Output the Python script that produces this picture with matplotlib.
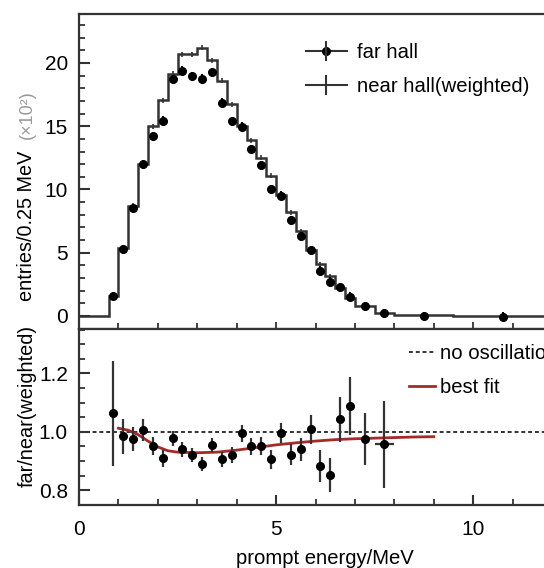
import numpy as np
import matplotlib.pyplot as plt
from matplotlib.lines import Line2D
from matplotlib.ticker import MultipleLocator, FixedLocator

plt.rcParams['font.family'] = ['Liberation Sans', 'DejaVu Sans']

# prompt energy bins (MeV)
bin_edges = [0.0, 0.75, 1.0, 1.25, 1.5, 1.75, 2.0, 2.25, 2.5, 2.75, 3.0,
             3.25, 3.5, 3.75, 4.0, 4.25, 4.5, 4.75, 5.0, 5.25, 5.5, 5.75,
             6.0, 6.25, 6.5, 6.75, 7.0, 7.5, 8.0, 9.5, 12.0]

# near hall (weighted), entries/0.25 MeV x 10^2
near_counts = [0.0, 1.55, 5.35, 8.7, 12.0, 15.0, 17.05, 19.15, 20.7, 20.7, 21.2,
               20.2, 18.6, 16.75, 15.0, 13.9, 12.5, 11.1, 9.6, 8.2, 6.7, 5.2,
               4.1, 3.15, 2.2, 1.45, 0.8, 0.22, 0.04, 0.0]

# far hall
far_counts = [1.58, 5.27, 8.5, 12.0, 14.2, 15.45, 18.7, 19.4, 18.95, 18.75,
              19.25, 16.85, 15.4, 14.95, 13.2, 11.9, 10.0, 9.5, 7.55, 6.3,
              5.2, 3.58, 2.7, 2.28, 1.52, 0.77, 0.21, 0.0, -0.05]
far_err = 0.35

# far / near ratio (first 27 bins)
ratio = [1.063, 0.985, 0.975, 1.006, 0.951, 0.909, 0.977, 0.94, 0.92, 0.889,
         0.954, 0.906, 0.92, 0.994, 0.95, 0.952, 0.905, 0.995, 0.922, 0.94,
         1.008, 0.882, 0.851, 1.043, 1.088, 0.975, 0.957]
ratio_err = [0.18, 0.06, 0.042, 0.038, 0.031, 0.03, 0.026, 0.025, 0.025, 0.025,
             0.025, 0.026, 0.027, 0.028, 0.03, 0.031, 0.033, 0.035, 0.037, 0.04,
             0.05, 0.054, 0.058, 0.077, 0.099, 0.089, 0.15]
ratio_xerr = [0.0] * 26 + [0.25]

# best fit curve
fit_x = [1.0, 1.25, 1.5, 1.75, 2.0, 2.25, 2.5, 3.0, 3.5, 4.0, 4.5, 5.0,
         5.5, 6.0, 6.5, 7.0, 7.5, 8.0, 8.5, 9.0]
fit_y = [1.012, 1.005, 0.99, 0.968, 0.948, 0.935, 0.930, 0.928, 0.930, 0.937,
         0.946, 0.955, 0.962, 0.968, 0.973, 0.976, 0.978, 0.980, 0.982, 0.983]

edges = np.array(bin_edges)
centers = (edges[:-1] + edges[1:]) / 2
far_x = centers[1:]
ratio_x = far_x[:len(ratio)]

dark = '#333333'
red = '#a52a2a'
tick_fs = 15
text_fs = 14.6

fig = plt.figure(figsize=(5.44, 5.68), dpi=100)
L = 79 / 544
W = (552 - 79) / 544
ax1 = fig.add_axes([L, 1 - 329 / 568, W, (329 - 14) / 568])
ax2 = fig.add_axes([L, 1 - 505 / 568, W, (505 - 329) / 568])

# top panel
ax1.stairs(near_counts, edges, baseline=None, color=dark, lw=1.8)
ax1.errorbar(centers[1:], near_counts[1:], yerr=0.2, fmt='none', ecolor=dark,
             elinewidth=1.2)
ax1.errorbar(far_x, far_counts, yerr=far_err, fmt='o', color='black',
             ms=5.5, elinewidth=1.5)

ax1.set_xlim(0, 12)
ax1.set_ylim(-1.03, 23.87)
ax1.yaxis.set_major_locator(FixedLocator([0, 5, 10, 15, 20]))
ax1.yaxis.set_minor_locator(MultipleLocator(1))
ax1.xaxis.set_major_locator(MultipleLocator(5))
ax1.xaxis.set_minor_locator(MultipleLocator(1))
ax1.tick_params(axis='both', which='both', direction='in', colors=dark)
ax1.tick_params(axis='y', which='major', length=8, width=1.5, labelsize=tick_fs,
                labelcolor='black', pad=8)
ax1.tick_params(axis='y', which='minor', length=4.5, width=1.3)
ax1.tick_params(axis='x', which='major', length=5, width=1.3, labelbottom=False)
ax1.tick_params(axis='x', which='minor', length=4, width=1.3)
for s in ax1.spines.values():
    s.set_linewidth(1.6)
    s.set_color(dark)

far_h = (Line2D([], [], color=dark, lw=1.5, marker='o', ms=5.5, mfc='black', mec='black'),
         Line2D([], [], ls='none', marker='|', ms=14, mew=1.5, color=dark))
near_h = (Line2D([], [], color=dark, lw=1.5),
          Line2D([], [], ls='none', marker='|', ms=14, mew=1.5, color=dark))
ax1.legend([far_h, near_h], ['far hall', 'near hall(weighted)'],
           loc='upper left', bbox_to_anchor=(306 / 544, 1 - 43 / 568),
           bbox_transform=fig.transFigure, frameon=False, fontsize=text_fs,
           handlelength=2.0, handletextpad=0.5, labelspacing=0.75, borderpad=0,
           borderaxespad=0)

fig.text(27 / 544, 1 - 226 / 568, 'entries/0.25 MeV', rotation=90,
         ha='center', va='center', fontsize=14.3)
fig.text(27 / 544, 1 - 115 / 568, '(×10²)', rotation=90, ha='center',
         va='center', fontsize=13, color='#9a9a9a')

# lower panel
ax2.axhline(1.0, color=dark, lw=1.4, ls=(0, (2, 1.5)), label='no oscillation')
ax2.plot(fit_x, fit_y, color=red, lw=2, label='best fit')
ax2.errorbar(ratio_x, ratio, yerr=ratio_err, xerr=ratio_xerr, fmt='o',
             color='black', ecolor=dark, ms=5.5, elinewidth=1.6)

ax2.set_xlim(0, 12)
ax2.set_ylim(0.749, 1.352)
ax2.yaxis.set_major_locator(FixedLocator([0.8, 1.0, 1.2]))
ax2.yaxis.set_minor_locator(MultipleLocator(0.05))
ax2.xaxis.set_major_locator(MultipleLocator(5))
ax2.xaxis.set_minor_locator(MultipleLocator(1))
ax2.set_yticklabels(['0.8', '1.0', '1.2'])
ax2.tick_params(axis='both', which='both', direction='in', colors=dark)
ax2.tick_params(axis='y', which='major', length=8, width=1.5, labelsize=tick_fs,
                labelcolor='black', pad=8)
ax2.tick_params(axis='y', which='minor', length=4.5, width=1.3)
ax2.tick_params(axis='x', which='major', length=7, width=1.5, labelsize=tick_fs,
                labelcolor='black', pad=11)
ax2.tick_params(axis='x', which='minor', length=4, width=1.3)
for s in ax2.spines.values():
    s.set_linewidth(1.6)
    s.set_color(dark)

ax2.legend(loc='upper left', bbox_to_anchor=(409 / 544, 1 - 344 / 568),
           bbox_transform=fig.transFigure, frameon=False, fontsize=text_fs,
           handlelength=1.3, handletextpad=0.25, labelspacing=0.75, borderpad=0,
           borderaxespad=0)

ax2.set_xlabel('prompt energy/MeV', fontsize=text_fs)
ax2.xaxis.set_label_coords((325 - 79) / (552 - 79), -0.25)
fig.text(27 / 544, 1 - 406 / 568, 'far/near(weighted)', rotation=90,
         ha='center', va='center', fontsize=14.3)

fig.savefig('out.png', dpi=100)
